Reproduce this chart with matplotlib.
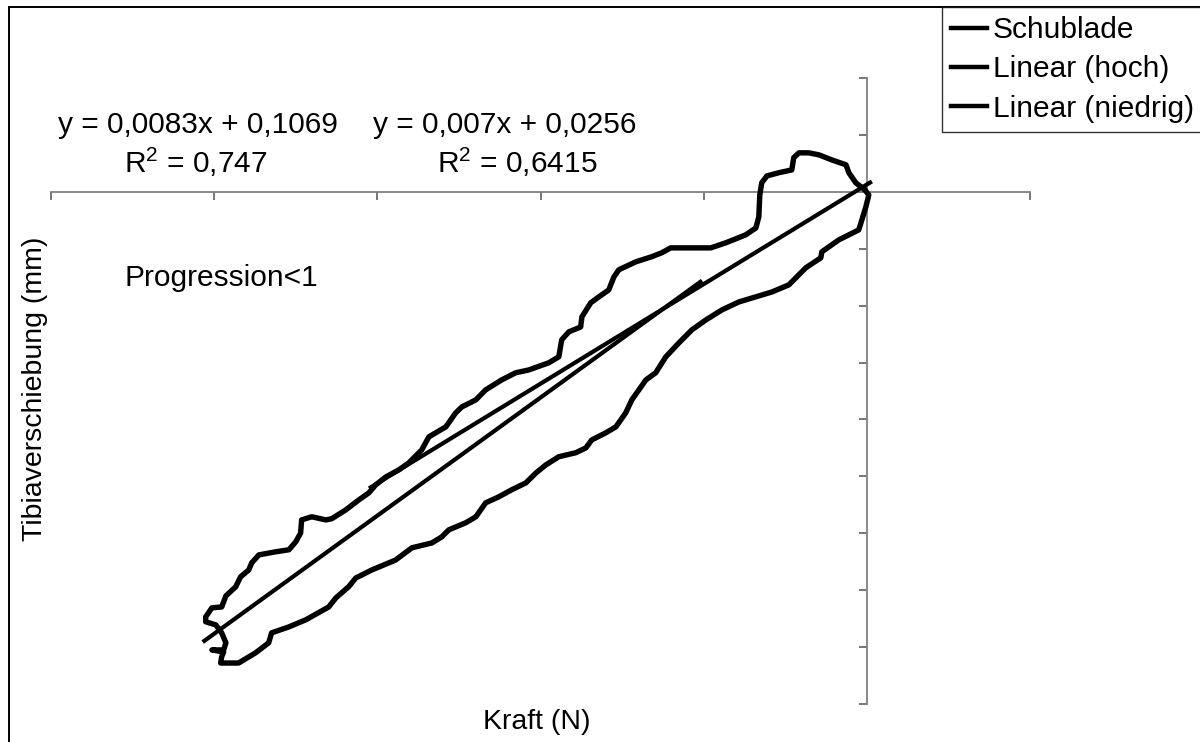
import matplotlib
matplotlib.use("Agg")
import matplotlib.pyplot as plt
import numpy as np
from matplotlib.lines import Line2D
from matplotlib.patches import Rectangle

plt.rcParams['font.family'] = ['Liberation Sans', 'DejaVu Sans']
plt.rcParams['mathtext.fontset'] = 'custom'
plt.rcParams['mathtext.rm'] = 'Liberation Sans'
plt.rcParams['mathtext.it'] = 'Liberation Sans'

# ---- data: hysteresis loop "Schublade" (Kraft N, Tibiaverschiebung mm) ----
kraft = [-0.6, -3.4, -5.5, -6.4, -10.7, -14.7, -17.8, -20.8, -22.4, -23.0, -27.0, -30.6,
         -32.2, -32.8, -33.1, -34.0, -37.1, -40.1, -43.2, -47.8, -54.6, -60.1, -62.8, -65.9,
         -70.8, -76.0, -77.5, -79.1, -82.1, -84.6, -87.3, -87.7, -91.3, -93.5, -94.4, -97.5,
         -103.6, -107.6, -111.9, -116.8, -119.8, -124.1, -126.0, -129.0, -134.2, -136.4,
         -140.4, -143.4, -147.4, -150.5, -152.6, -155.7, -159.7, -164.0, -165.8, -170.1,
         -173.2, -173.5, -175.0, -177.1, -181.1, -186.3, -188.5, -189.4, -191.9, -193.4,
         -196.4, -197.7, -200.7, -202.6, -202.6, -199.5, -197.7, -196.4, -197.1, -200.7,
         -197.1, -197.7, -198.0, -192.5, -187.3, -183.3, -182.4, -177.1, -171.9, -164.9,
         -162.7, -158.8, -156.6, -151.7, -144.4, -139.4, -133.3, -130.3, -128.1, -122.9,
         -119.8, -116.8, -112.8, -108.8, -104.5, -101.4, -98.4, -94.4, -89.2, -86.1, -84.3,
         -80.0, -76.9, -73.9, -72.0, -67.7, -64.7, -61.6, -57.6, -53.6, -49.3, -44.4, -39.2,
         -34.0, -29.1, -23.9, -18.7, -14.1, -13.8, -8.6, -2.5, -1.8, -0.3, 0.6, -0.6]
verschiebung = [0.007, 0.032, 0.067, 0.095, 0.112, 0.130, 0.137, 0.137, 0.120, 0.077, 0.067,
                0.056, 0.032, -0.011, -0.088, -0.127, -0.151, -0.165, -0.179, -0.197, -0.197,
                -0.197, -0.214, -0.228, -0.246, -0.274, -0.299, -0.345, -0.369, -0.390, -0.439,
                -0.475, -0.492, -0.520, -0.580, -0.601, -0.626, -0.636, -0.661, -0.696, -0.731,
                -0.756, -0.777, -0.826, -0.861, -0.907, -0.953, -0.977, -1.002, -1.030, -1.058,
                -1.083, -1.118, -1.149, -1.153, -1.142, -1.153, -1.199, -1.230, -1.258, -1.265,
                -1.276, -1.304, -1.329, -1.353, -1.388, -1.420, -1.459, -1.462, -1.494, -1.511,
                -1.522, -1.550, -1.585, -1.610, -1.610, -1.617, -1.634, -1.656, -1.656, -1.620,
                -1.585, -1.550, -1.529, -1.504, -1.459, -1.427, -1.388, -1.357, -1.329, -1.294,
                -1.251, -1.234, -1.213, -1.188, -1.163, -1.142, -1.093, -1.072, -1.047, -1.023,
                -0.988, -0.960, -0.931, -0.917, -0.900, -0.872, -0.847, -0.826, -0.777, -0.731,
                -0.661, -0.636, -0.580, -0.531, -0.485, -0.450, -0.415, -0.387, -0.369, -0.352,
                -0.327, -0.267, -0.232, -0.211, -0.169, -0.134, -0.109, -0.053, -0.011, 0.007]

# ---- trendlines (Excel linear fits) ----
hoch_slope, hoch_intercept = 0.0083, 0.1069
hoch_range = [-203, -51]
niedrig_slope, niedrig_intercept = 0.007, 0.0256
niedrig_range = [-152, 1]

eq_hoch = ["y = 0,0083x + 0,1069", r"R$^{2}$ = 0,747"]
eq_niedrig = ["y = 0,007x + 0,0256", r"R$^{2}$ = 0,6415"]

legend_labels = ["Schublade", "Linear (hoch)", "Linear (niedrig)"]
x_ticks = [-250, -200, -150, -100, -50, 0, 50]
y_ticks = [-1.8, -1.6, -1.4, -1.2, -1.0, -0.8, -0.6, -0.4, -0.2, 0.0, 0.2, 0.4]

W, H = 1200, 742
fig = plt.figure(figsize=(W / 100, H / 100), dpi=100)

# axes box: x -250..50 -> px 51..1030 ; y -1.8..0.4 -> px 704..78
ax = fig.add_axes([51 / W, (H - 704) / H, (1030 - 51) / W, (704 - 78) / H])
ax.set_xlim(-250, 50)
ax.set_ylim(-1.8, 0.4)
ax.patch.set_alpha(0)

ax.plot(kraft, verschiebung, color='black', lw=3.9, solid_joinstyle='round',
        solid_capstyle='round', zorder=3)

xh = np.array(hoch_range)
ax.plot(xh, hoch_slope * xh + hoch_intercept, color='black', lw=3.0, zorder=4)
xn = np.array(niedrig_range)
ax.plot(xn, niedrig_slope * xn + niedrig_intercept, color='black', lw=3.0, zorder=4)

for s in ['top', 'right']:
    ax.spines[s].set_visible(False)
ax.spines['left'].set_position(('data', 0))
ax.spines['bottom'].set_position(('data', 0))
for s in ['left', 'bottom']:
    ax.spines[s].set_color('#808080')
    ax.spines[s].set_linewidth(1.3)
ax.set_xticks(x_ticks)
ax.set_yticks(y_ticks)
ax.tick_params(axis='both', direction='out', length=6, width=1.2, color='#606060',
               labelbottom=False, labelleft=False)

# axis titles and annotations
fs = 21.5
fs_ax = 20.5
fig.text(35 / W, 1 - 389 / H, "Tibiaverschiebung (mm)", rotation=90, ha='center',
         va='center', fontsize=fs_ax)
fig.text(537 / W, 1 - 722 / H, "Kraft (N)", ha='center', va='center', fontsize=fs_ax)
fig.text(221 / W, 1 - 278 / H, "Progression<1", ha='center', va='center', fontsize=fs)
fig.text(198 / W, 1 - 125 / H, eq_hoch[0], ha='center', va='center', fontsize=fs)
fig.text(196 / W, 1 - 162 / H, eq_hoch[1], ha='center', va='center', fontsize=fs)
fig.text(505 / W, 1 - 125 / H, eq_niedrig[0], ha='center', va='center', fontsize=fs)
fig.text(517 / W, 1 - 162 / H, eq_niedrig[1], ha='center', va='center', fontsize=fs)

# chart border (extends beyond the visible picture)
fig.patches.append(Rectangle((9 / W, -0.5), 2.0, 1.5 - 7 / H, transform=fig.transFigure,
                             fill=False, edgecolor='black', lw=1.4, clip_on=False))

handles = [Line2D([], [], color='black', lw=3.2) for _ in legend_labels]
leg = fig.legend(handles, legend_labels, loc='upper left',
                 bbox_to_anchor=(942 / W, 1 - 7 / H), bbox_transform=fig.transFigure,
                 fontsize=fs, frameon=True, fancybox=False, borderaxespad=0,
                 handlelength=1.2, handletextpad=0.2, labelspacing=0.38,
                 borderpad=0.3)
leg.get_frame().set_edgecolor('black')
leg.get_frame().set_linewidth(1.0)

fig.savefig("out.png", dpi=100)
